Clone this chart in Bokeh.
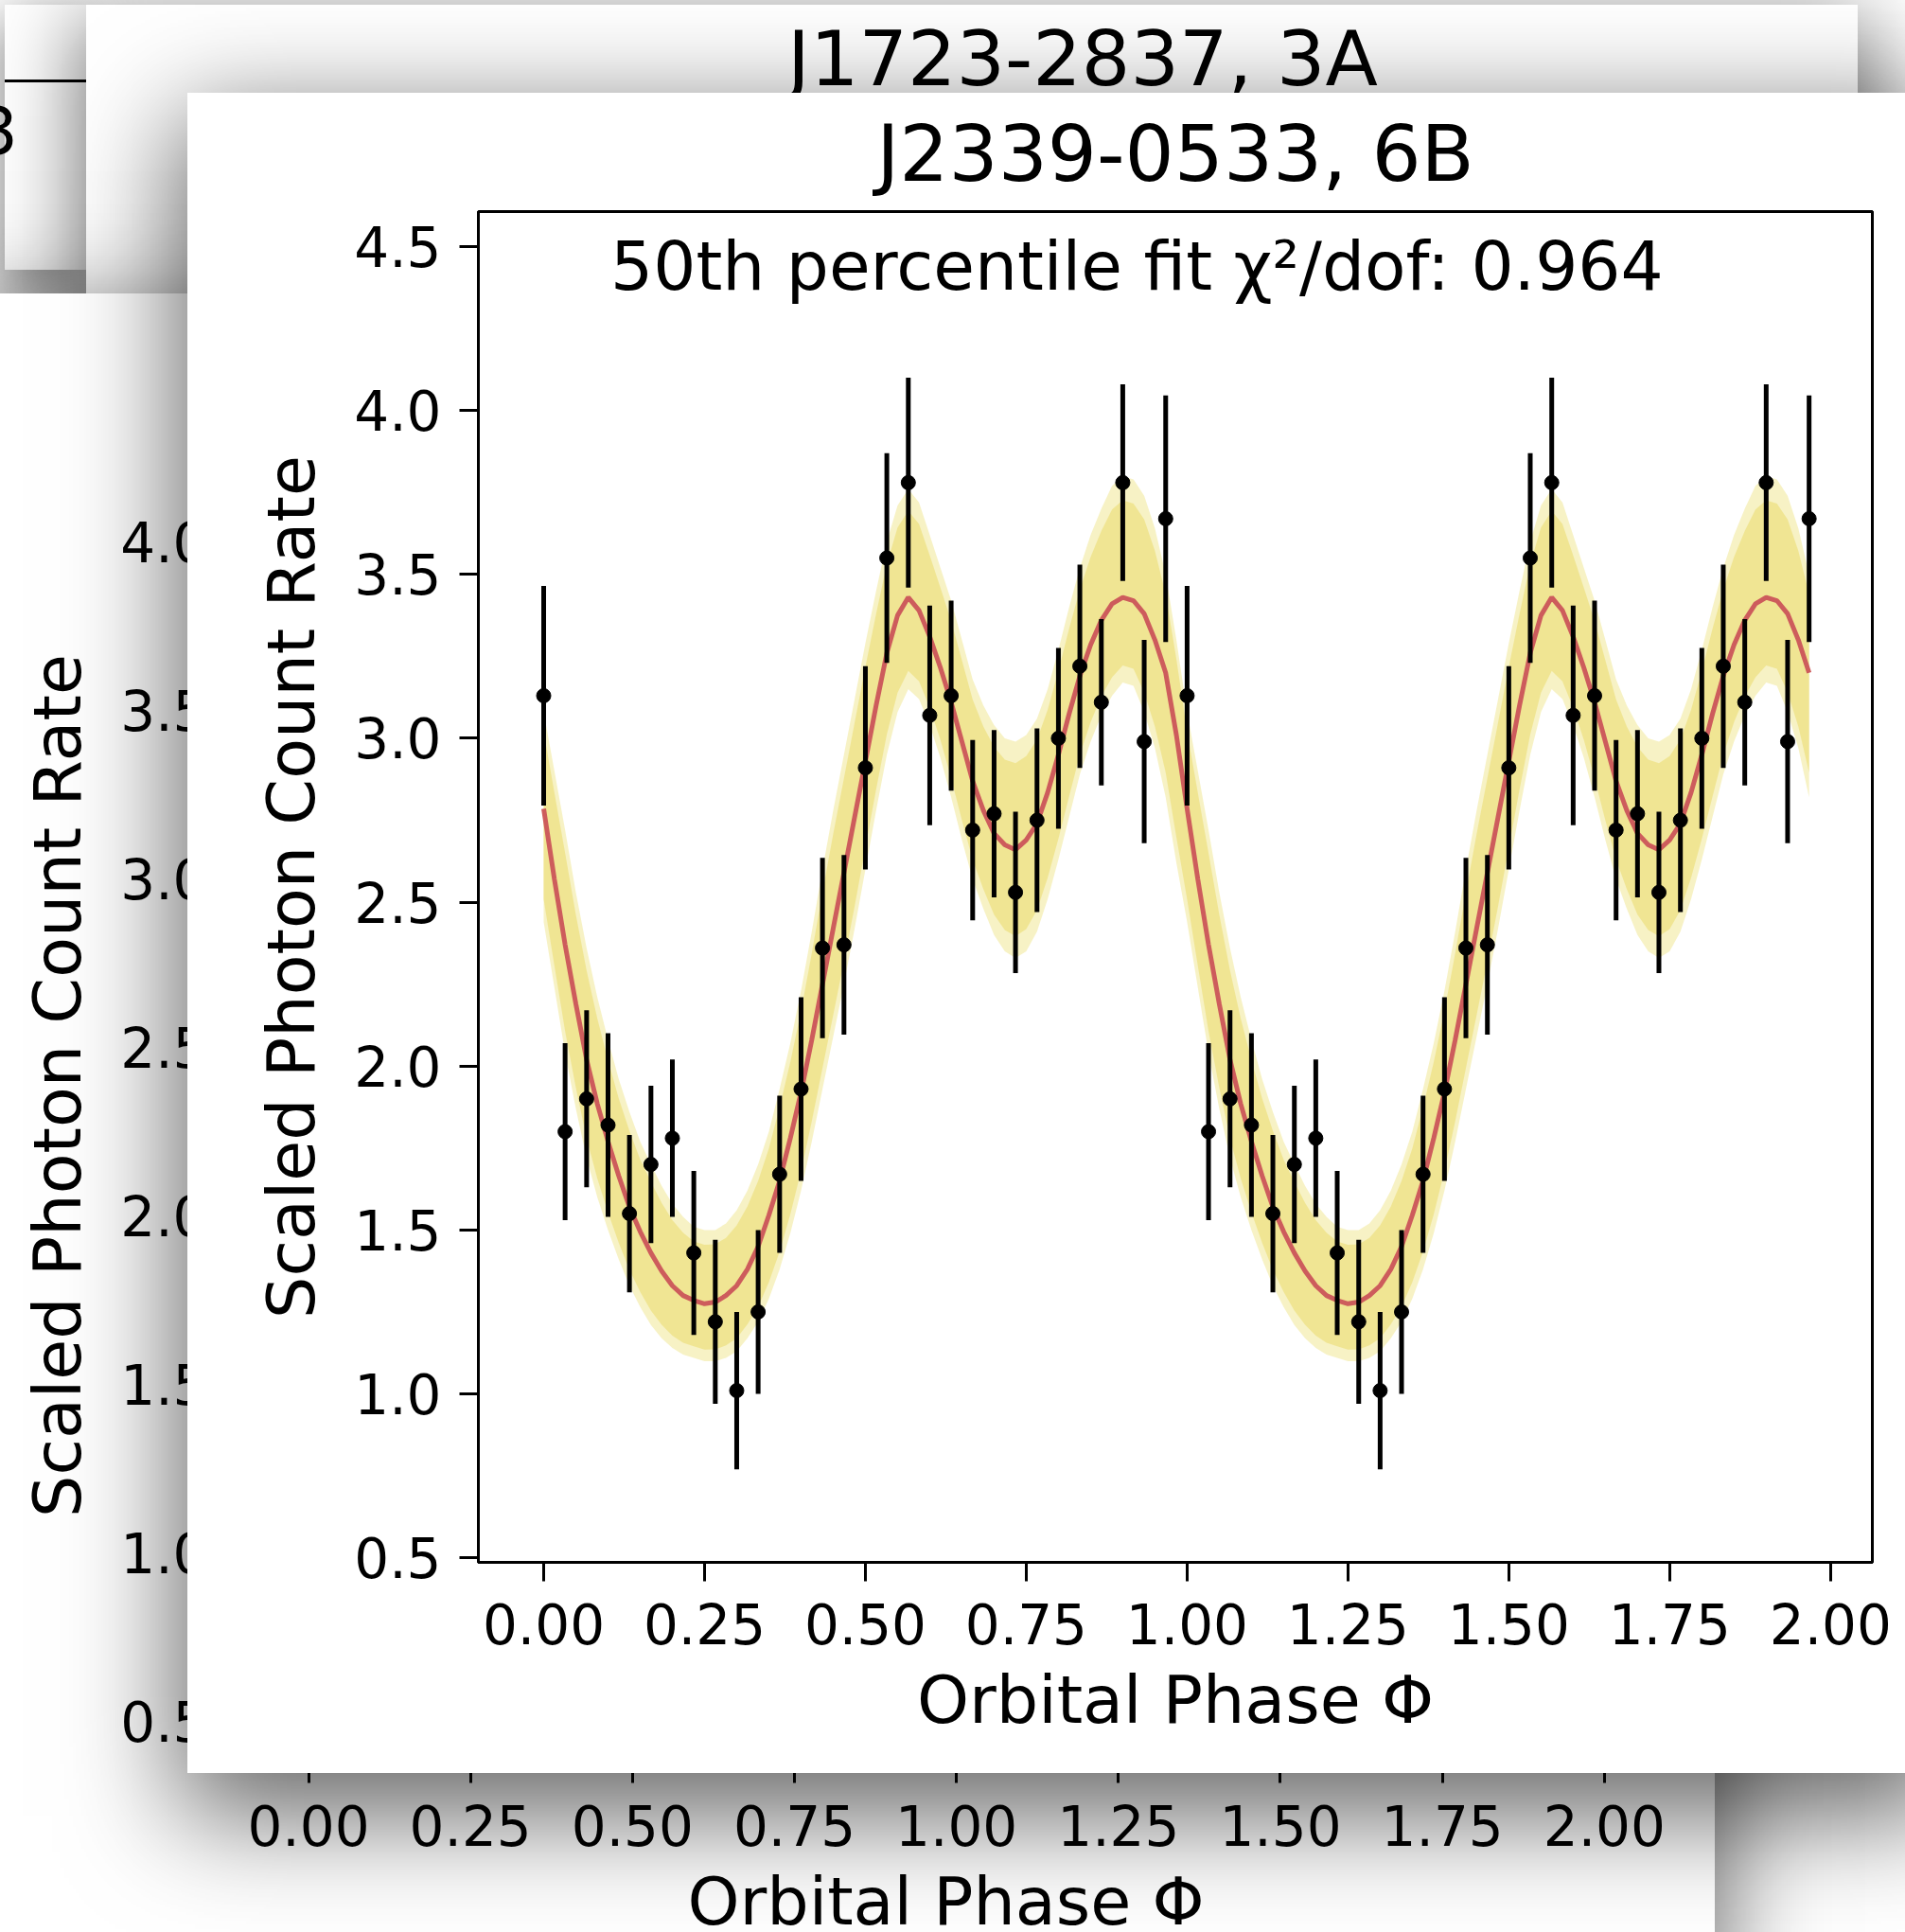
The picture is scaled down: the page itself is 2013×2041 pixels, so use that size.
import numpy as np
from bokeh.plotting import figure
from bokeh.models import Column, Label, Range1d, FixedTicker, Div
from bokeh.embed import file_html
from bokeh.resources import INLINE

FONT = "DejaVu Sans"

# ---------------- data (one orbital cycle, repeated for phase 1-2) ----------------
PHASE = [0.0, 0.0333, 0.0667, 0.1, 0.1333, 0.1667, 0.2, 0.2333, 0.2667, 0.3,
         0.3333, 0.3667, 0.4, 0.4333, 0.4667, 0.5, 0.5333, 0.5667, 0.6, 0.6333,
         0.6667, 0.7, 0.7333, 0.7667, 0.8, 0.8333, 0.8667, 0.9, 0.9333, 0.9667]
RATE = [3.13, 1.80, 1.90, 1.82, 1.55, 1.70, 1.78, 1.43, 1.22, 1.01,
        1.25, 1.67, 1.93, 2.36, 2.37, 2.91, 3.55, 3.78, 3.07, 3.13,
        2.72, 2.77, 2.53, 2.75, 3.00, 3.22, 3.11, 3.78, 2.99, 3.67]
RATE_ERR = [0.335, 0.27, 0.27, 0.28, 0.24, 0.24, 0.24, 0.25, 0.25, 0.24,
            0.25, 0.24, 0.28, 0.275, 0.274, 0.31, 0.32, 0.32, 0.335, 0.29,
            0.275, 0.255, 0.246, 0.28, 0.276, 0.31, 0.254, 0.30, 0.31, 0.376]

# fit curves sampled every 1/60 in phase (one cycle)
FIT_MEDIAN = [2.785, 2.57, 2.37, 2.19, 2.02, 1.885, 1.77, 1.665, 1.57, 1.495,
              1.43, 1.375, 1.33, 1.30, 1.285, 1.275, 1.28, 1.30, 1.33, 1.38,
              1.45, 1.545, 1.65, 1.78, 1.92, 2.08, 2.25, 2.42, 2.59, 2.76,
              2.93, 3.10, 3.26, 3.375, 3.43, 3.39, 3.31, 3.215, 3.11, 2.99,
              2.87, 2.78, 2.71, 2.675, 2.66, 2.69, 2.74, 2.835, 2.95, 3.075,
              3.19, 3.285, 3.36, 3.41, 3.43, 3.42, 3.38, 3.30, 3.20, 3.01]
FIT_UPPER = [3.08, 2.90, 2.72, 2.53, 2.36, 2.21, 2.08, 1.96, 1.86, 1.77,
             1.70, 1.635, 1.58, 1.54, 1.51, 1.50, 1.50, 1.52, 1.56, 1.62,
             1.70, 1.80, 1.93, 2.07, 2.23, 2.41, 2.60, 2.78, 2.95, 3.12,
             3.29, 3.45, 3.60, 3.71, 3.76, 3.72, 3.62, 3.52, 3.42, 3.30,
             3.18, 3.10, 3.04, 3.00, 2.99, 3.01, 3.06, 3.15, 3.27, 3.40,
             3.52, 3.62, 3.70, 3.77, 3.80, 3.79, 3.74, 3.64, 3.50, 3.30]
FIT_LOWER = [2.44, 2.24, 2.04, 1.87, 1.72, 1.60, 1.50, 1.41, 1.33, 1.265,
             1.21, 1.17, 1.14, 1.12, 1.11, 1.10, 1.10, 1.11, 1.13, 1.17,
             1.22, 1.29, 1.38, 1.49, 1.62, 1.77, 1.93, 2.09, 2.25, 2.42,
             2.60, 2.78, 2.95, 3.08, 3.15, 3.12, 3.04, 2.94, 2.82, 2.69,
             2.57, 2.48, 2.40, 2.35, 2.33, 2.35, 2.41, 2.51, 2.63, 2.76,
             2.89, 2.99, 3.07, 3.13, 3.17, 3.16, 3.08, 2.97, 2.82, 2.62]

X_TICKS = [0.0, 0.25, 0.5, 0.75, 1.0, 1.25, 1.5, 1.75, 2.0]
X_TICK_LABELS = ["0.00", "0.25", "0.50", "0.75", "1.00", "1.25", "1.50", "1.75", "2.00"]
Y_TICKS = [0.5, 1.0, 1.5, 2.0, 2.5, 3.0, 3.5, 4.0, 4.5]
Y_TICK_LABELS = ["0.5", "1.0", "1.5", "2.0", "2.5", "3.0", "3.5", "4.0", "4.5"]

TITLE_FRONT = "J2339-0533, 6B"
TITLE_BACK = "J1723-2837, 3A"
ANNOT = "50th percentile fit \u03c7\u00b2/dof: 0.964"
XLABEL = "Orbital Phase \u03a6"
YLABEL = "Scaled Photon Count Rate"

# two cycles
ph = np.array(PHASE + [p + 1 for p in PHASE])
rate = np.array(RATE + RATE)
err = np.array(RATE_ERR + RATE_ERR)

grid = np.arange(60) / 60.0
cphase = np.concatenate([grid, grid + 1])[:119]
cmed = np.array(FIT_MEDIAN + FIT_MEDIAN)[:119]
cup = np.array(FIT_UPPER + FIT_UPPER)[:119]
clo = np.array(FIT_LOWER + FIT_LOWER)[:119]


def style_axes(p):
    p.xgrid.visible = False
    p.ygrid.visible = False
    for ax in p.axis:
        ax.axis_line_color = "black"
        ax.axis_line_width = 3
        ax.major_tick_line_color = "black"
        ax.major_tick_line_width = 3
        ax.major_tick_out = 20
        ax.major_tick_in = 0
        ax.minor_tick_line_color = None
        ax.major_label_text_font = FONT
        ax.major_label_text_font_size = "58px"
        ax.major_label_text_color = "black"
        ax.axis_label_text_font = FONT
        ax.axis_label_text_font_size = "70px"
        ax.axis_label_text_font_style = "normal"
        ax.axis_label_text_color = "black"
    p.xaxis.ticker = FixedTicker(ticks=X_TICKS)
    p.xaxis.major_label_overrides = dict(zip(X_TICKS, X_TICK_LABELS))
    p.yaxis.ticker = FixedTicker(ticks=Y_TICKS)
    p.yaxis.major_label_overrides = dict(zip(Y_TICKS, Y_TICK_LABELS))
    p.xaxis.major_label_standoff = 23
    p.yaxis.major_label_standoff = 19
    p.xaxis.axis_label_standoff = 15
    p.yaxis.axis_label_standoff = 22
    p.xaxis.axis_label = XLABEL
    p.yaxis.axis_label = YLABEL


def pos_styles(left, top, w, h, shadow):
    return {"position": "absolute", "left": f"{left}px", "top": f"{top}px",
            "width": f"{w}px", "height": f"{h}px",
            "box-shadow": shadow, "background-color": "white"}


# ---------------- panel A (far back, top-left sliver) ----------------
A_HTML = ('<div style="position:absolute;left:0;top:79px;width:86px;height:3px;background:black;"></div>'
          '<div style="position:absolute;right:72px;top:100px;font-family:\'DejaVu Sans\';'
          'font-size:69px;line-height:69px;color:black;white-space:nowrap;">3</div>')
A = Div(text=A_HTML, width=86, height=280,
        styles=pos_styles(0, 0, 86, 280, "0 20px 60px 5px rgba(0,0,0,0.45)"))

# ---------------- panel J (J1723-2837, 3A) ----------------
J_HTML = ('<div style="position:absolute;left:0;top:17px;width:2106px;text-align:center;'
          'font-family:\'DejaVu Sans\';font-size:81px;line-height:81px;color:black;'
          'white-space:nowrap;">' + TITLE_BACK + '</div>')
J = Div(text=J_HTML, width=1872, height=420,
        styles=pos_styles(86, 0, 1872, 420, "0 25px 80px 10px rgba(0,0,0,0.5)"))

# ---------------- panel B (back, bottom-left) ----------------
B = figure(width=1861, height=1780, x_range=Range1d(-0.0986, 2.066), y_range=Range1d(0.374, 4.40),
           output_backend="svg", toolbar_location=None,
           min_border_left=307, min_border_right=72, min_border_top=120, min_border_bottom=227)
B.outline_line_color = "black"
B.outline_line_width = 3
B.border_fill_color = "white"
style_axes(B)
B.yaxis.ticker = FixedTicker(ticks=Y_TICKS[:-1])
B.styles = pos_styles(-49, 310, 1861, 1780, "0 30px 100px 10px rgba(0,0,0,0.55)")

# ---------------- panel F (front, J2339-0533, 6B) ----------------
F = figure(width=1852, height=1775, x_range=Range1d(-0.1015, 2.065), y_range=Range1d(0.486, 4.607),
           output_backend="svg", toolbar_location=None, title=TITLE_FRONT,
           min_border_left=307, min_border_right=72, min_border_top=123, min_border_bottom=223)
F.outline_line_color = "black"
F.outline_line_width = 3
F.border_fill_color = "white"
style_axes(F)
F.title.text_font = FONT
F.title.text_font_size = "82px"
F.title.text_font_style = "normal"
F.title.text_color = "black"
F.title.align = "center"
F.title.standoff = 28

inner_up = cmed + 0.8 * (cup - cmed)
inner_lo = cmed - 0.8 * (cmed - clo)
F.varea(x=cphase, y1=clo, y2=cup, fill_color="#f0e68c", fill_alpha=0.5)
F.varea(x=cphase, y1=inner_lo, y2=inner_up, fill_color="#efe38a", fill_alpha=0.85)
F.line(x=cphase, y=cmed, line_color="#cd5c5c", line_width=5)
F.segment(x0=ph, y0=rate - err, x1=ph, y1=rate + err, line_color="black", line_width=5)
F.scatter(x=ph, y=rate, size=15, fill_color="black", line_color="black")
F.add_layout(Label(x=0.922, y=4.44, text=ANNOT, text_align="center", text_baseline="alphabetic",
                   text_font=FONT, text_font_size="71px", text_color="black"))
F.styles = pos_styles(198, 98, 1852, 1775, "0 35px 110px 10px rgba(0,0,0,0.6)")

root = Column(children=[A, J, B, F], width=2013, height=2041, sizing_mode="fixed",
              styles={"position": "relative", "overflow": "hidden", "width": "2013px",
                      "height": "2041px", "background-color": "white"})

open("out.html", "w").write(file_html(root, INLINE))
